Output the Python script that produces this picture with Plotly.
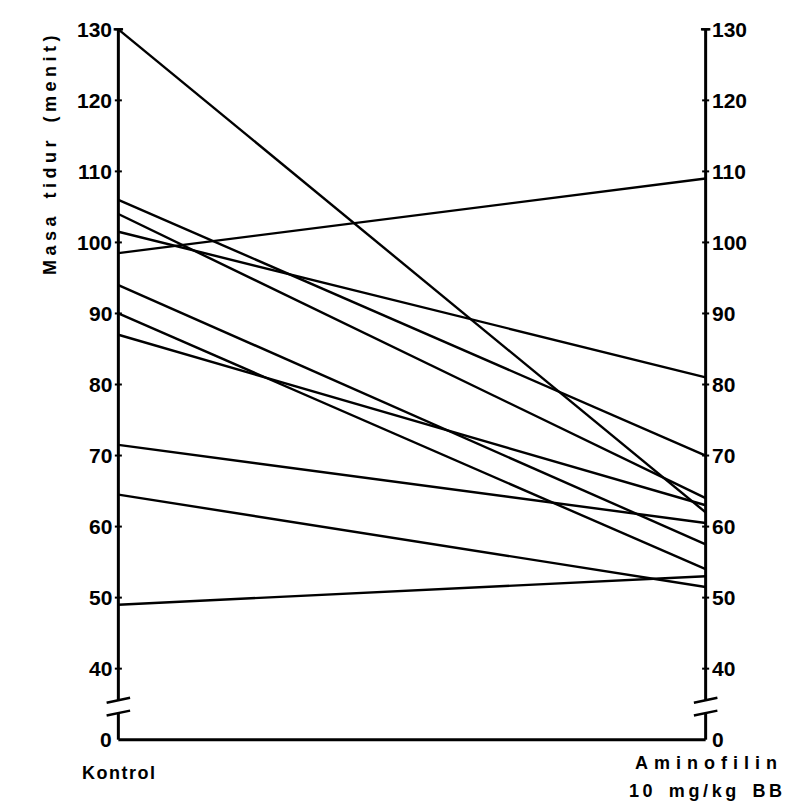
import plotly.graph_objects as go

# Sleep duration (minutes) for each subject
kontrol    = [130, 106, 104, 101.5, 98.5, 94, 90, 87, 71.5, 64.5, 49]
aminofilin = [62, 70, 64, 81, 109, 57.5, 54, 63, 60.5, 51.5, 53]

tick_values = [40, 50, 60, 70, 80, 90, 100, 110, 120, 130]
zero_pos = 30          # display position of the "0" label below the axis break
group_labels = ["Kontrol", "Aminofilin", "10 mg/kg BB"]
y_title = "Masa tidur (menit)"

FONT = "Liberation Sans"

def spaced(s, sp="\u2009"):
    out = []
    for ch in s:
        out.append("\u2002" if ch == " " else ch)
    return sp.join(out)

fig = go.Figure()

for a, b in zip(kontrol, aminofilin):
    fig.add_trace(go.Scatter(x=[0, 1], y=[a, b], mode="lines",
                             line=dict(color="black", width=2.4),
                             showlegend=False, hoverinfo="skip"))

shapes = []
def seg(x0, y0, x1, y1, w=2.6):
    shapes.append(dict(type="line", xref="x", yref="y", x0=x0, y0=y0, x1=x1, y1=y1,
                       line=dict(color="black", width=w)))

for xa in (0, 1):
    seg(xa, 130, xa, 35.6, 3)
    seg(xa - 0.02, 35.2, xa + 0.02, 35.9, 2.4)
    seg(xa - 0.02, 33.4, xa + 0.02, 34.1, 2.4)
    seg(xa, 33.75, xa, zero_pos, 3)
    for v in tick_values:
        seg(xa - 0.006, v, xa + 0.006, v, 2)
    seg(xa - 0.008, 130, xa + 0.008, 130, 2.5)
seg(0, zero_pos, 1, zero_pos, 3)

annotations = []
tf = dict(family=FONT, size=21, color="black")
for v in tick_values + [zero_pos]:
    lab = "0" if v == zero_pos else str(v)
    annotations.append(dict(x=0, y=v, xref="x", yref="y", text=f"<b>{lab}</b>", showarrow=False,
                            xanchor="right", xshift=-4, font=tf))
    annotations.append(dict(x=1, y=v, xref="x", yref="y", text=f"<b>{lab}</b>", showarrow=False,
                            xanchor="left", xshift=4, font=tf))
lf = dict(family=FONT, size=18, color="black")
annotations.append(dict(x=0, y=zero_pos, xref="x", yref="y",
                        text="<b>" + spaced(group_labels[0], "\u200a") + "</b>",
                        showarrow=False, xanchor="center", yanchor="middle", yshift=-33, font=lf))
annotations.append(dict(x=1, y=zero_pos, xref="x", yref="y",
                        text="<b>" + spaced(group_labels[1], "\u2004") + "</b>",
                        showarrow=False, xanchor="center", yanchor="middle", yshift=-23, font=lf))
annotations.append(dict(x=1, y=zero_pos, xref="x", yref="y",
                        text="<b>" + spaced(group_labels[2]) + "</b>",
                        showarrow=False, xanchor="center", yanchor="middle", yshift=-51, font=lf))
annotations.append(dict(x=(42 - 81) / 646, y=(753 - 147) / 753, xref="paper", yref="paper",
                        text="<b>" + spaced(y_title, "\u2005") + "</b>",
                        showarrow=False, textangle=-90, xanchor="center", yanchor="middle",
                        font=dict(family=FONT, size=18, color="black")))

fig.update_layout(
    width=791, height=809,
    margin=dict(l=81, r=64, t=0, b=56),
    paper_bgcolor="white", plot_bgcolor="white",
    xaxis=dict(range=[-0.05, 1.05], visible=False),
    yaxis=dict(range=[27, 133], visible=False),
    shapes=shapes, annotations=annotations,
    showlegend=False,
)

fig.write_html("out.html")
